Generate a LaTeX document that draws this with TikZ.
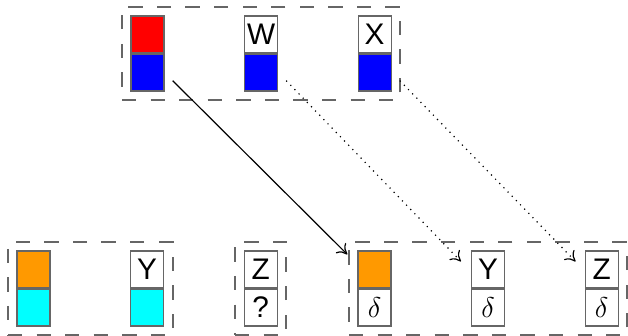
\documentclass[tikz,border=0pt]{standalone}
\usepackage{fontspec}
\setmainfont{Liberation Sans}
\usepackage{tikz}
\usetikzlibrary{arrows.meta,positioning,fit}
\definecolor{orng}{RGB}{255,153,0}
\definecolor{cyn}{RGB}{0,255,255}

\begin{document}
\begin{tikzpicture}[
  x=0.42pt, y=-0.42pt,
  font=\fontsize{12.5}{14}\selectfont,
  node distance=33.3pt,
  half/.style={draw=black!60, line width=0.5pt, minimum width=13.9pt, minimum height=15.5pt, inner sep=0pt},
  grp/.style={draw=black!60, line width=0.8pt, dash pattern=on 6pt off 6pt, inner sep=3.5pt},
  arr/.style={-{To[length=4pt,width=6pt]}, line width=0.5pt}
]
\useasboundingbox (0,0) rectangle (628,336);

% source row
\node[half, fill=red] (s1) at (147.5,34.5) {};
\node[half, fill=blue, below=0pt of s1] (s1b) {};
\node[half, right=of s1] (s2) {W};
\node[half, fill=blue, below=0pt of s2] (s2b) {};
\node[half, right=of s2] (s3) {X};
\node[half, fill=blue, below=0pt of s3] (s3b) {};
\node[grp, fit=(s1)(s3b)] (src) {};

% left row
\node[half, fill=orng] (b1) at (33.5,269.5) {};
\node[half, fill=cyn, below=0pt of b1] (b1b) {};
\node[half, right=of b1] (b2) {Y};
\node[half, fill=cyn, below=0pt of b2] (b2b) {};
\node[grp, fit=(b1)(b2b)] (lft) {};

\node[half, right=of b2] (q) {Z};
\node[half, below=0pt of q] (qb) {?};
\node[grp, fit=(q)(qb)] (unk) {};

% result row
\node[half, fill=orng] (d1) at (374.5,269.5) {};
\node[half, below=0pt of d1] (d1b) {$\delta$};
\node[half, right=of d1] (d2) {Y};
\node[half, below=0pt of d2] (d2b) {$\delta$};
\node[half, right=of d2] (d3) {Z};
\node[half, below=0pt of d3] (d3b) {$\delta$};
\node[grp, fit=(d1)(d3b)] (res) {};

\draw[arr] ([shift={(8,-11)}]s1b.south east) -- ([shift={(-10,4)}]d1.north west);
\draw[arr, dotted] ([shift={(8,-11)}]s2b.south east) -- ([shift={(-10,11)}]d2.north west);
\draw[arr, dotted] ([shift={(8,-11)}]s3b.south east) -- ([shift={(-9,11)}]d3.north west);
\end{tikzpicture}
\end{document}
